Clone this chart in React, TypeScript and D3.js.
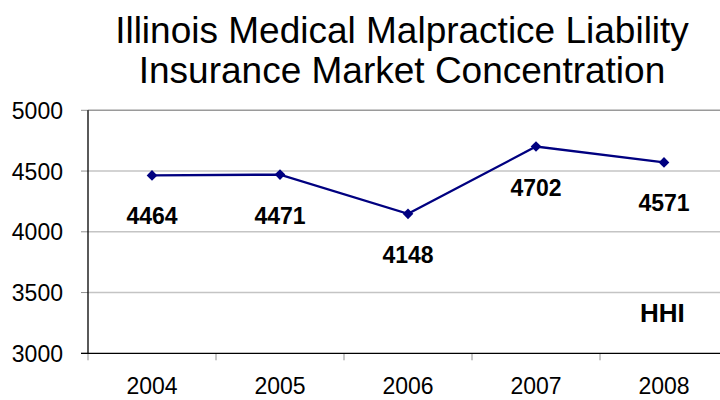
import React, { useEffect, useRef } from 'react';
import * as d3 from 'd3';

// Chart data
const YEARS = ['2004', '2005', '2006', '2007', '2008'];
const HHI_VALUES = [4464, 4471, 4148, 4702, 4571];
const Y_TICKS = [3000, 3500, 4000, 4500, 5000];
const TITLE_LINES = [
  'Illinois Medical Malpractice Liability',
  'Insurance Market Concentration',
];
const SERIES_LABEL = 'HHI';

const FONT = '"Liberation Sans", Arial, sans-serif';

const App: React.FC = () => {
  const svgRef = useRef<SVGSVGElement>(null);

  useEffect(() => {
    if (!svgRef.current) return;

    const svg = d3.select(svgRef.current);
    svg.selectAll('*').remove();

    const width = 720;
    const height = 400;
    const plot = { left: 88, right: 728, top: 110.3, bottom: 353.3 };

    svg.attr('width', width).attr('height', height);

    // Scales
    const x = d3.scaleBand<string>()
      .domain(YEARS)
      .range([plot.left, plot.right]);

    const y = d3.scaleLinear()
      .domain([3000, 5000])
      .range([plot.bottom, plot.top]);

    // Title
    svg.append('g')
      .selectAll('text')
      .data(TITLE_LINES)
      .enter()
      .append('text')
      .attr('x', 402)
      .attr('y', (d, i) => 42.7 + i * 40.6)
      .attr('text-anchor', 'middle')
      .style('font-family', FONT)
      .style('font-size', '37px')
      .style('fill', '#000')
      .text(d => d);

    // Gridlines
    svg.append('g')
      .selectAll('line')
      .data(Y_TICKS.filter(t => t > 3000))
      .enter()
      .append('line')
      .attr('x1', plot.left)
      .attr('x2', plot.right)
      .attr('y1', d => y(d))
      .attr('y2', d => y(d))
      .style('stroke', d => (d === 5000 ? '#9a9a9a' : '#c4c4c4'))
      .style('stroke-width', 1.6);

    // Y tick marks + labels
    const yTick = svg.append('g')
      .selectAll('g')
      .data(Y_TICKS)
      .enter()
      .append('g');

    yTick.append('line')
      .attr('x1', plot.left - 7)
      .attr('x2', plot.left)
      .attr('y1', d => y(d))
      .attr('y2', d => y(d))
      .style('stroke', '#909090')
      .style('stroke-width', 1);

    yTick.append('text')
      .attr('x', 63)
      .attr('y', d => y(d) + 8.5)
      .attr('text-anchor', 'end')
      .style('font-family', FONT)
      .style('font-size', '23px')
      .style('fill', '#000')
      .text(d => d);

    // X tick marks at category boundaries
    const boundaries = YEARS.map(d => x(d) as number).concat([plot.right]);
    svg.append('g')
      .selectAll('line')
      .data(boundaries)
      .enter()
      .append('line')
      .attr('x1', d => d)
      .attr('x2', d => d)
      .attr('y1', plot.bottom)
      .attr('y2', plot.bottom + 7)
      .style('stroke', '#909090')
      .style('stroke-width', 1);

    // X labels
    svg.append('g')
      .selectAll('text')
      .data(YEARS)
      .enter()
      .append('text')
      .attr('x', d => (x(d) as number) + x.bandwidth() / 2)
      .attr('y', 394)
      .attr('text-anchor', 'middle')
      .style('font-family', FONT)
      .style('font-size', '23px')
      .style('fill', '#000')
      .text(d => d);

    // Axis lines
    svg.append('line')
      .attr('x1', plot.left)
      .attr('x2', plot.left)
      .attr('y1', plot.top)
      .attr('y2', plot.bottom)
      .style('stroke', '#000')
      .style('stroke-width', 1.3);

    svg.append('line')
      .attr('x1', plot.left - 7)
      .attr('x2', plot.right)
      .attr('y1', plot.bottom)
      .attr('y2', plot.bottom)
      .style('stroke', '#000')
      .style('stroke-width', 1.3);

    // Line series
    const points = YEARS.map((yr, i) => ({
      x: (x(yr) as number) + x.bandwidth() / 2,
      y: y(HHI_VALUES[i]),
      value: HHI_VALUES[i],
    }));

    const line = d3.line<{ x: number; y: number }>()
      .x(d => d.x)
      .y(d => d.y);

    svg.append('path')
      .datum(points)
      .attr('d', line)
      .style('fill', 'none')
      .style('stroke', '#000080')
      .style('stroke-width', 2.3);

    // Diamond markers
    const diamond = d3.symbol().type(d3.symbolDiamond2).size(72);
    svg.append('g')
      .selectAll('path')
      .data(points)
      .enter()
      .append('path')
      .attr('d', diamond)
      .attr('transform', d => `translate(${d.x},${d.y})`)
      .style('fill', '#000080');

    // Data labels
    svg.append('g')
      .selectAll('text')
      .data(points)
      .enter()
      .append('text')
      .attr('x', d => d.x)
      .attr('y', d => d.y + 49)
      .attr('text-anchor', 'middle')
      .style('font-family', FONT)
      .style('font-size', '23px')
      .style('font-weight', 'bold')
      .style('fill', '#000')
      .text(d => d.value);

    // Series label
    svg.append('text')
      .attr('x', 640)
      .attr('y', 322)
      .style('font-family', FONT)
      .style('font-size', '26px')
      .style('font-weight', 'bold')
      .style('fill', '#000')
      .text(SERIES_LABEL);
  }, []);

  return (
    <div style={{ position: 'absolute', left: 0, top: 0, width: 720, height: 400, background: '#fff' }}>
      <svg ref={svgRef} style={{ display: 'block' }} />
    </div>
  );
};

export default App;
